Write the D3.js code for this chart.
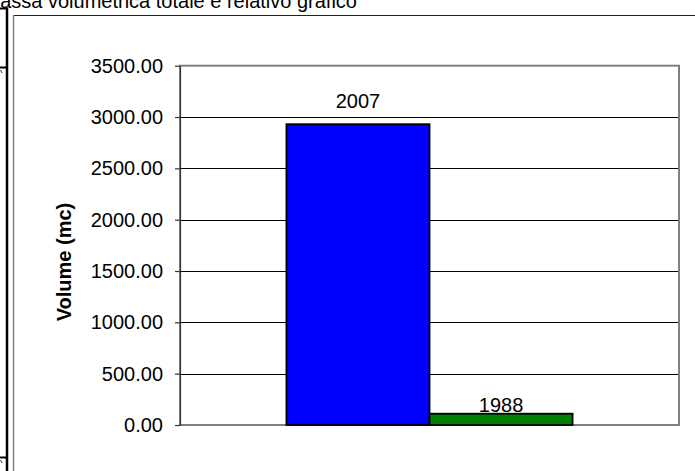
<!DOCTYPE html>
<html>
<head>
<meta charset="utf-8">
<script src="https://cdn.jsdelivr.net/npm/d3@7"></script>
<style>
  html, body { margin: 0; padding: 0; background: #fff; overflow: hidden; }
  svg { display: block; font-family: "Liberation Sans", Arial, sans-serif; }
</style>
</head>
<body>
<script>
// ---- data ----
const titleText = "Massa volumetrica totale e relativo grafico";
const categories = [""];
const seriesNames = ["2007", "1988"];
const seriesValues = [2930, 110];
const seriesColors = ["#0000FF", "#008000"];
const yTickValues = [0, 500, 1000, 1500, 2000, 2500, 3000, 3500];
const yAxisTitle = "Volume (mc)";

// ---- layout ----
const W = 695, H = 471;
const plot = { left: 180, right: 679, top: 65.7, bottom: 425 };

const svg = d3.select("body").append("svg")
  .attr("width", W).attr("height", H);

// spreadsheet fragments on the left
svg.append("line").attr("x1", 7).attr("x2", 7).attr("y1", 7.5).attr("y2", H)
  .attr("stroke", "#000").attr("stroke-width", 2.5);
[8.5, 67.5, 457.5].forEach(yy => {
  svg.append("line").attr("x1", 0).attr("x2", 8).attr("y1", yy).attr("y2", yy)
    .attr("stroke", "#000").attr("stroke-width", 2);
});
[70, 460].forEach(yy => {
  svg.append("line").attr("x1", 0.5).attr("x2", 2).attr("y1", yy).attr("y2", yy + 3)
    .attr("stroke", "#333").attr("stroke-width", 1);
});

// title (clipped at top-left)
svg.append("text").attr("x", 357).attr("y", 7.5)
  .attr("text-anchor", "end").attr("font-size", 20).attr("fill", "#000")
  .text(titleText);

// chart area border
svg.append("line").attr("x1", 13).attr("x2", W).attr("y1", 15.5).attr("y2", 15.5)
  .attr("stroke", "#222").attr("stroke-width", 1);
svg.append("line").attr("x1", 13.5).attr("x2", 13.5).attr("y1", 15).attr("y2", H)
  .attr("stroke", "#808080").attr("stroke-width", 1.5);

// scales
const y = d3.scaleLinear().domain([0, 3500]).range([plot.bottom, plot.top]);
const x0 = d3.scaleBand().domain(categories).range([plot.left, plot.right])
  .paddingInner(0).paddingOuter(0.372);
const x1 = d3.scaleBand().domain(seriesNames).range([0, x0.bandwidth()]).padding(0);

// gridlines
svg.append("g").selectAll("line")
  .data(yTickValues.filter(v => v > 0 && v < 3500))
  .join("line")
  .attr("x1", plot.left).attr("x2", plot.right)
  .attr("y1", d => Math.round(y(d)) + 0.5).attr("y2", d => Math.round(y(d)) + 0.5)
  .attr("stroke", "#000").attr("stroke-width", 1);

// plot border
svg.append("rect")
  .attr("x", plot.left).attr("y", plot.top)
  .attr("width", plot.right - plot.left).attr("height", plot.bottom - plot.top)
  .attr("fill", "none").attr("stroke", "#808080").attr("stroke-width", 2);

// bars
const data = seriesNames.map((s, i) => ({ name: s, value: seriesValues[i], color: seriesColors[i], cat: categories[0] }));
const labelDy = [-16.5, -1.5];
svg.append("g").selectAll("rect")
  .data(data).join("rect")
  .attr("x", d => x0(d.cat) + x1(d.name))
  .attr("y", d => y(d.value))
  .attr("width", x1.bandwidth())
  .attr("height", d => y(0) - y(d.value))
  .attr("fill", d => d.color)
  .attr("stroke", "#000").attr("stroke-width", 1.8);

// bar labels
svg.append("g").selectAll("text")
  .data(data).join("text")
  .attr("x", d => x0(d.cat) + x1(d.name) + x1.bandwidth() / 2)
  .attr("y", (d, i) => y(d.value) + labelDy[i])
  .attr("text-anchor", "middle").attr("font-size", 20).attr("fill", "#000")
  .text(d => d.name);

// y axis
const yAxis = d3.axisLeft(y).tickValues(yTickValues)
  .tickFormat(d3.format(".2f")).tickSizeInner(5).tickSizeOuter(0).tickPadding(12);
const gy = svg.append("g").attr("transform", `translate(${plot.left},0)`).call(yAxis);
gy.select(".domain").attr("stroke", "#333").attr("stroke-width", 1.2);
gy.selectAll(".tick line").attr("stroke", "#333").attr("stroke-width", 1.2);
gy.selectAll(".tick text").attr("font-size", 20)
  .attr("font-family", "'Liberation Sans', Arial, sans-serif").attr("fill", "#000");

// y axis title
svg.append("text")
  .attr("transform", `translate(71,262) rotate(-90)`)
  .attr("text-anchor", "middle").attr("font-size", 20).attr("font-weight", "bold")
  .attr("fill", "#000")
  .text(yAxisTitle);
</script>
</body>
</html>
